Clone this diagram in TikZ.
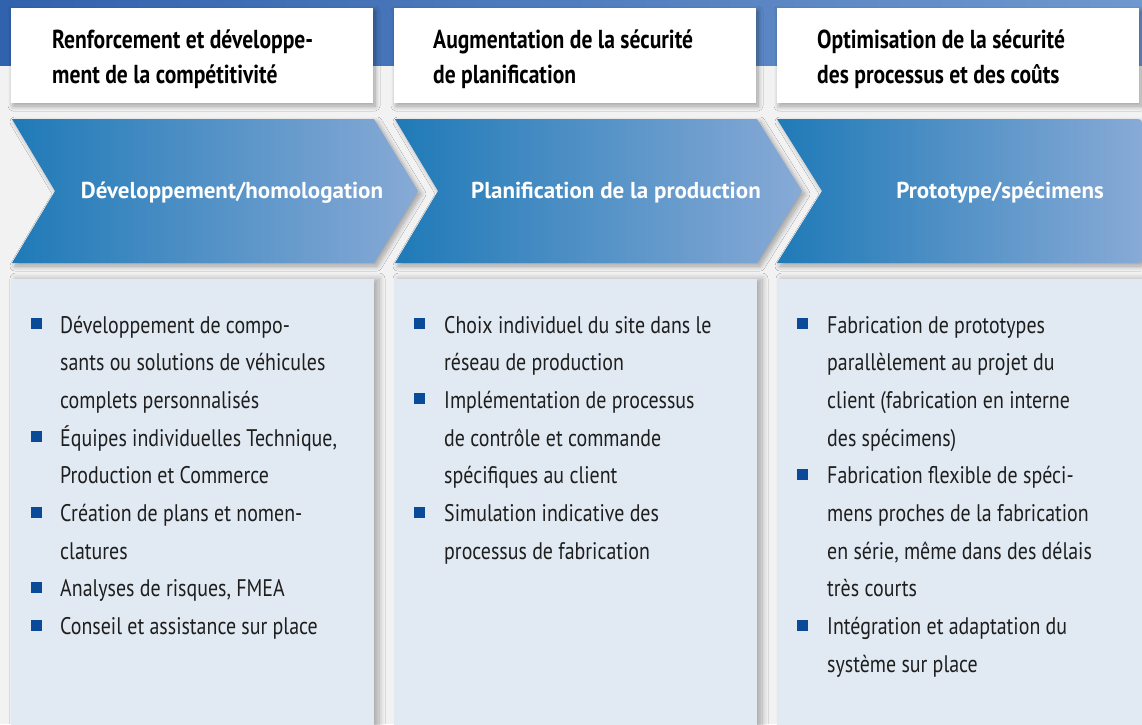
\documentclass[tikz,border=0pt]{standalone}
\usepackage{fontspec}
\setmainfont{PT Sans}[FakeStretch=0.83]
\newfontfamily\chevfont{PT Sans}
\usetikzlibrary{shadows.blur}

\definecolor{bandblue}{HTML}{3162AD}
\definecolor{bandlight}{HTML}{6F98CE}
\definecolor{pagegray}{HTML}{F2F2F2}
\definecolor{chevleft}{HTML}{1F7AB7}
\definecolor{chevright}{HTML}{88AAD6}
\definecolor{listfill}{HTML}{E1E9F2}
\definecolor{bulletblue}{HTML}{0A4A98}
\definecolor{listtext}{HTML}{1E1E1E}

\tikzset{
  headbox/.style={fill=white, blur shadow={shadow xshift=2pt, shadow yshift=-3pt, shadow blur radius=5pt, shadow blur steps=10, shadow opacity=35}},
  chev/.style={left color=chevleft, right color=chevright, blur shadow={shadow xshift=3pt, shadow yshift=-3pt, shadow blur radius=5pt, shadow blur steps=10, shadow opacity=35}},
  listbox/.style={fill=listfill, blur shadow={shadow xshift=5pt, shadow yshift=0pt, shadow blur radius=6pt, shadow blur steps=10, shadow opacity=30}},
  headtext/.style={anchor=base west, inner sep=0pt, align=left, font=\fontsize{26}{35}\selectfont\bfseries},
  chevtext/.style={anchor=base, inner sep=0pt, text=white, font=\chevfont\fontsize{23}{28}\selectfont\bfseries},
  item/.style={anchor=base west, inner sep=0pt, text=listtext, font=\fontsize{24}{28}\selectfont},
  bullet/.style={fill=bulletblue, minimum size=11pt, inner sep=0pt}
}

\begin{document}
\begin{tikzpicture}[x=1pt,y=-1pt]
    \useasboundingbox (0,0) rectangle (1142,724);
    \fill[pagegray] (0,0) rectangle (1142,724);
    \shade[left color=bandblue, right color=bandlight] (0,0) rectangle (1142,65);

    % top boxes
    \path[headbox] (11,8) rectangle (373,103);
    \path[headbox] (394,8) rectangle (756,103);
    \path[headbox] (777,8) rectangle (1139,103);

    \node[headtext] (head1) at (52,83) {Renforcement et développe-\\ment de la compétitivité};
    \node[headtext] (head2) at (433,83) {Augmentation de la sécurité\\de planification};
    \node[headtext] (head3) at (817,83) {Optimisation de la sécurité\\des processus et des coûts};

    % chevrons
    \path[chev] (12,119) -- (374,119) -- (418,191) -- (374,263) -- (12,263) -- (55,191) -- cycle;
    \path[chev] (395,119) -- (757,119) -- (802,191) -- (757,263) -- (395,263) -- (438,191) -- cycle;
    \path[chev] (777,119) -- (1138,119) to[out=0,in=90] (1142,123) -- (1142,259) to[out=-90,in=0] (1138,263) -- (777,263) -- (822,191) -- cycle;

    \node[chevtext] (step1) at (232,198) {Développement/homologation};
    \node[chevtext] (step2) at (616,198) {Planification de la production};
    \node[chevtext] (step3) at (1000,198) {Prototype/spécimens};

    % lists
    \path[listbox] (11,279) rectangle (374,740);
    \path[listbox] (394,279) rectangle (757,740);
    \path[listbox] (777,279) rectangle (1150,740);

    \foreach \t [count=\i] in {Développement de compo-,
        sants ou solutions de véhicules,
        complets personnalisés,
        {Équipes individuelles Technique,},
        Production et Commerce,
        Création de plans et nomen-,
        clatures,
        {Analyses de risques, FMEA},
        Conseil et assistance sur place} {
        \node[item] (a\i) at (60,{333+37.7*(\i-1)}) {\t};
    }
    \foreach \i in {1,4,6,8,9} {
        \node[bullet] (ba\i) at (36.5,{323.5+37.7*(\i-1)}) {};
    }

    \foreach \t [count=\i] in {Choix individuel du site dans le,
        réseau de production,
        Implémentation de processus,
        de contrôle et commande,
        spécifiques au client,
        Simulation indicative des,
        processus de fabrication} {
        \node[item] (b\i) at (444,{333+37.7*(\i-1)}) {\t};
    }
    \foreach \i in {1,3,6} {
        \node[bullet] (bb\i) at (419.5,{323.5+37.7*(\i-1)}) {};
    }

    \foreach \t [count=\i] in {Fabrication de prototypes,
        parallèlement au projet du,
        client (fabrication en interne,
        des spécimens),
        Fabrication flexible de spéci-,
        mens proches de la fabrication,
        {en série, même dans des délais},
        très courts,
        Intégration et adaptation du,
        système sur place} {
        \node[item] (c\i) at (827,{333+37.7*(\i-1)}) {\t};
    }
    \foreach \i in {1,5,9} {
        \node[bullet] (bc\i) at (802.5,{323.5+37.7*(\i-1)}) {};
    }

\end{tikzpicture}
\end{document}
